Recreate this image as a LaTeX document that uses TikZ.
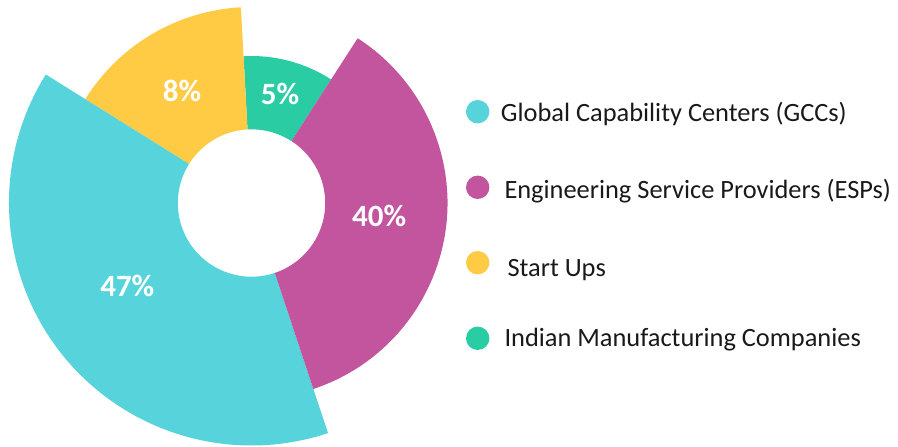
\documentclass[tikz,border=0pt]{standalone}
\usepackage{fontspec}
\setmainfont{Carlito}
\definecolor{cGCC}{RGB}{86,211,219}
\definecolor{cESP}{RGB}{194,85,157}
\definecolor{cSU}{RGB}{255,203,68}
\definecolor{cIMC}{RGB}{42,204,163}
\tikzset{
  pct/.style={text=white,font=\fontsize{31}{34}\selectfont\bfseries,inner sep=0pt},
  legtext/.style={anchor=base west,inner sep=0pt,font=\fontsize{26.4}{30}\selectfont,text=black!90},
  legdot/.style={circle,minimum size=23.4pt,inner sep=0pt},
}
\newcommand{\annsec}[4]{% color, a1, a2, R
  \fill[#1] (#2:73.7) -- (#2:#4) arc[start angle=#2,end angle=#3,radius=#4] -- (#3:73.7) arc[start angle=#3,end angle=#2,radius=73.7] -- cycle;}
\begin{document}
\begin{tikzpicture}[x=1pt,y=1pt]
\useasboundingbox (-251.5,-244) rectangle (646.5,203);
\annsec{cIMC}{57.2}{93.1}{147}
\annsec{cSU}{93.1}{148}{196}
\annsec{cGCC}{148}{288.4}{242.5}
\annsec{cESP}{-71.6}{57.2}{196}
\node[pct] (p8) at (-69.5,112.3) {8\%};
\node[pct] (p5) at (28.5,108.7) {5\%};
\node[pct] (p40) at (127.7,-12.8) {40\%};
\node[pct] (p47) at (-124.2,-83) {47\%};
\node[legdot,fill=cGCC] (d1) at (226.2,91.3) {};
\node[legdot,fill=cESP] (d2) at (226.2,15.7) {};
\node[legdot,fill=cSU] (d3) at (226.2,-59.7) {};
\node[legdot,fill=cIMC] (d4) at (226.2,-135.3) {};
\node[legtext] (t1) at (249.2,81.3) {Global Capability Centers (GCCs)};
\node[legtext] (t2) at (252.8,4.7) {Engineering Service Providers (ESPs)};
\node[legtext] (t3) at (255.8,-73.7) {Start Ups};
\node[legtext] (t4) at (252.8,-143.7) {Indian Manufacturing Companies};
\end{tikzpicture}
\end{document}
